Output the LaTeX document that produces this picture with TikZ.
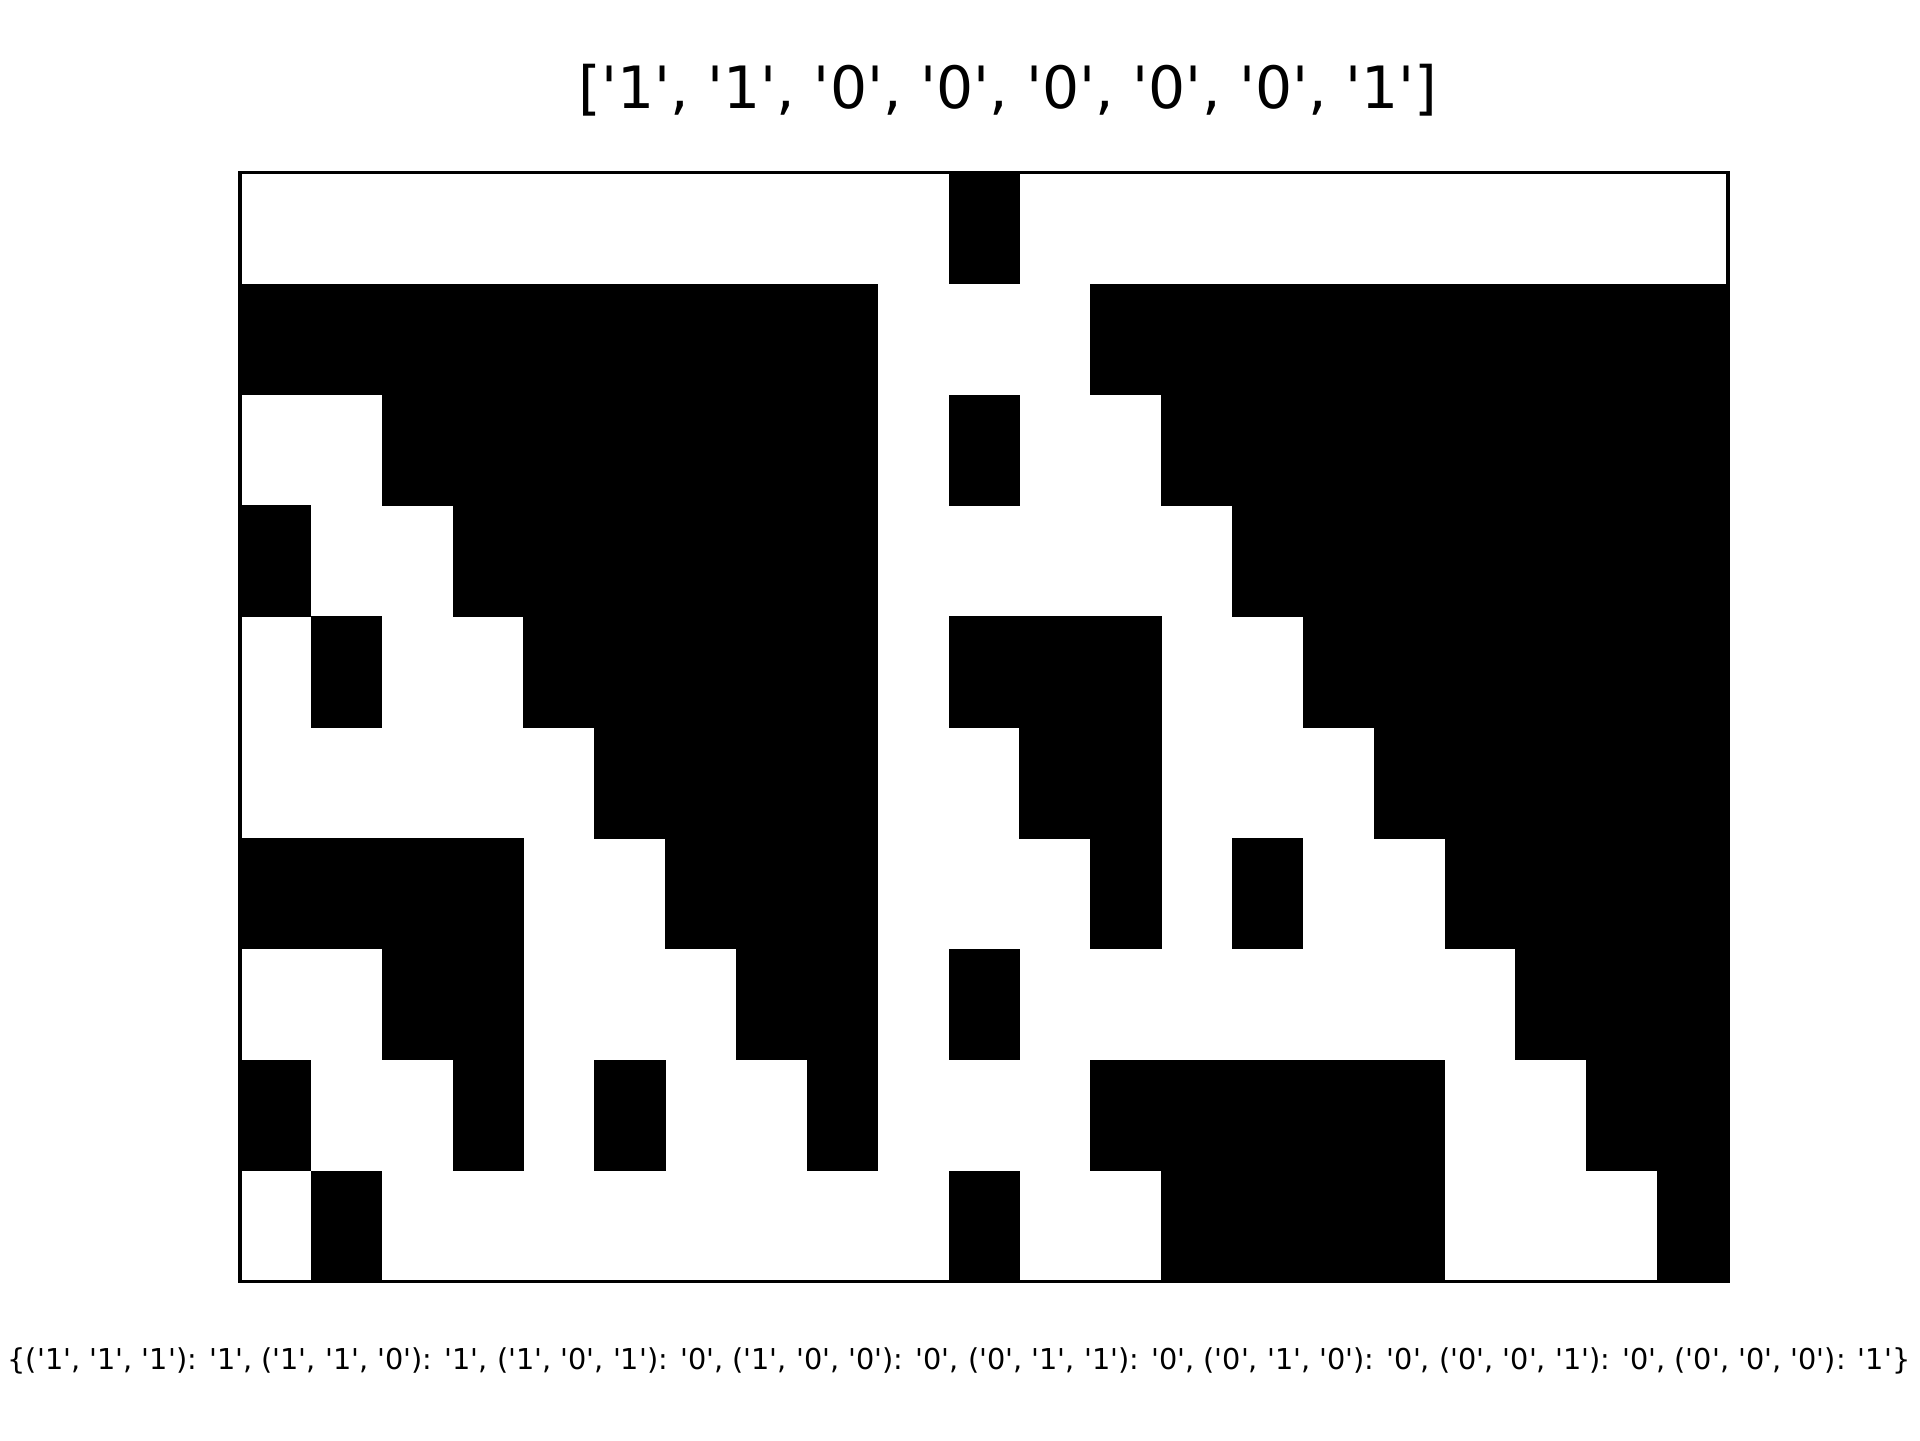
\documentclass[tikz,border=0pt]{standalone}
\usepackage{fontspec}
\newfontfamily\dvsans{DejaVu Sans}
\tikzset{
  cellfill/.style={fill=black},
  frame/.style={draw=black, line width=0.8bp},
  txt/.style={inner sep=0pt, outer sep=0pt, anchor=base}
}
\begin{document}
\begin{tikzpicture}[x=0.24bp, y=-0.24bp]
\useasboundingbox[fill=white] (0,0) rectangle (1920,1440);
% cells
\foreach \row [count=\r from 0] in {
 {0,0,0,0,0,0,0,0,0,0,1,0,0,0,0,0,0,0,0,0,0},
 {1,1,1,1,1,1,1,1,1,0,0,0,1,1,1,1,1,1,1,1,1},
 {0,0,1,1,1,1,1,1,1,0,1,0,0,1,1,1,1,1,1,1,1},
 {1,0,0,1,1,1,1,1,1,0,0,0,0,0,1,1,1,1,1,1,1},
 {0,1,0,0,1,1,1,1,1,0,1,1,1,0,0,1,1,1,1,1,1},
 {0,0,0,0,0,1,1,1,1,0,0,1,1,0,0,0,1,1,1,1,1},
 {1,1,1,1,0,0,1,1,1,0,0,0,1,0,1,0,0,1,1,1,1},
 {0,0,1,1,0,0,0,1,1,0,1,0,0,0,0,0,0,0,1,1,1},
 {1,0,0,1,0,1,0,0,1,0,0,0,1,1,1,1,1,0,0,1,1},
 {0,1,0,0,0,0,0,0,0,0,1,0,0,1,1,1,1,0,0,0,1}} {
  \foreach \v [count=\c from 0] in \row {
    \ifnum\v=1
      \fill[cellfill] ({240+70.857*\c},{172.8+110.88*\r}) rectangle ++(71.3,111.3);
    \fi
  }
}
\coordinate (tl) at (240,172.8);
\coordinate (br) at (1728,1281.6);
\draw[frame] (tl) rectangle (br);
\node[txt] (title) at (1008,108.3) {\dvsans\fontsize{14bp}{16bp}\selectfont ['1', '1', '0', '0', '0', '0', '0', '1']};
\node[txt] (rule) at (959,1369.5) {\dvsans\fontsize{6.9bp}{8bp}\selectfont \{('1', '1', '1'): '1', ('1', '1', '0'): '1', ('1', '0', '1'): '0', ('1', '0', '0'): '0', ('0', '1', '1'): '0', ('0', '1', '0'): '0', ('0', '0', '1'): '0', ('0', '0', '0'): '1'\}};
\end{tikzpicture}
\end{document}
